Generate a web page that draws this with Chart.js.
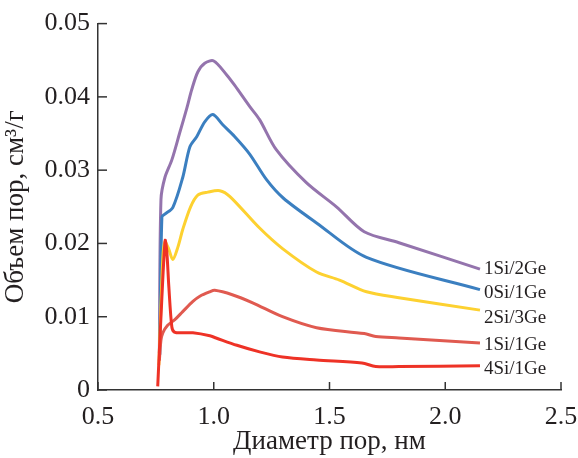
<!DOCTYPE html>
<html><head><meta charset="utf-8">
<script src="https://cdn.jsdelivr.net/npm/chart.js@4.4.1/dist/chart.umd.min.js"></script>
<style>html,body{margin:0;padding:0;background:#fff}#wrap{width:578px;height:458px}</style>
</head><body><div id="wrap"><canvas id="c" width="578" height="458"></canvas></div>
<script>
const seriesNames = ["1Si/2Ge","0Si/1Ge","2Si/3Ge","1Si/1Ge","4Si/1Ge"];
const x_1Si2Ge = [0.765,0.772,0.789,0.819,0.853,0.884,0.905,0.931,0.961,1.0,1.056,1.09,1.155,1.198,1.27,1.40,1.53,1.65,1.80,2.15];
const y_1Si2Ge = [0.005,0.026,0.029,0.0314,0.0351,0.0385,0.041,0.0434,0.0446,0.0449,0.043,0.0416,0.0387,0.0369,0.0328,0.0283,0.025,0.0216,0.0201,0.0165];
const x_0Si1Ge = [0.767,0.776,0.789,0.823,0.866,0.897,0.927,0.961,0.996,1.039,1.09,1.155,1.228,1.30,1.444,1.66,2.15];
const y_0Si1Ge = [0.0048,0.0236,0.024,0.0249,0.029,0.0332,0.0346,0.0366,0.0376,0.0362,0.0346,0.0322,0.0287,0.0262,0.0228,0.0181,0.0137];
const x_2Si3Ge = [0.763,0.78,0.789,0.805,0.823,0.845,0.866,0.90,0.931,0.974,1.026,1.07,1.198,1.297,1.444,1.543,1.66,1.80,2.15];
const y_2Si3Ge = [0.0034,0.018,0.0202,0.0193,0.0178,0.0195,0.0219,0.025,0.0266,0.027,0.0272,0.0264,0.0221,0.0193,0.0161,0.015,0.0134,0.0126,0.0109];
const x_1Si1Ge = [0.765,0.772,0.78,0.80,0.832,0.866,0.91,0.94,0.983,1.004,1.08,1.168,1.297,1.444,1.65,1.70,1.80,2.15];
const y_1Si1Ge = [0.004,0.0068,0.0078,0.0088,0.0096,0.0107,0.0121,0.0128,0.0134,0.0136,0.013,0.0119,0.010,0.0085,0.0077,0.0073,0.0071,0.0064];
const x_4Si1Ge = [0.758,0.775,0.79,0.797,0.806,0.819,0.83,0.866,0.91,0.983,1.01,1.1,1.198,1.297,1.444,1.64,1.70,1.80,2.15];
const y_4Si1Ge = [0.0005,0.012,0.0204,0.019,0.0141,0.0086,0.0079,0.0078,0.0078,0.0074,0.0071,0.0061,0.0052,0.0045,0.0041,0.0037,0.0032,0.0032,0.0033];
const xTickValues = [0.5,1.0,1.5,2.0,2.5];
const xTickLabels = ["0.5","1.0","1.5","2.0","2.5"];
const yTickValues = [0,0.01,0.02,0.03,0.04,0.05];
const yTickLabels = ["0","0.01","0.02","0.03","0.04","0.05"];
const xTitle = "Диаметр пор, нм";
const yTitle = "Объем пор, см³/г";

const colors = ["#9474ad","#3b7fc0","#fdd130","#e05a50","#ee3226"];
const xs = [x_1Si2Ge,x_0Si1Ge,x_2Si3Ge,x_1Si1Ge,x_4Si1Ge];
const ys = [y_1Si2Ge,y_0Si1Ge,y_2Si3Ge,y_1Si1Ge,y_4Si1Ge];
const labelDy = [0,3,8,2,3];
const FONT = "'Liberation Serif','Times New Roman',serif";
const TXT = "#231f20";

const datasets = seriesNames.map((n,i)=>({
  label:n,
  data: xs[i].map((x,j)=>({x:x,y:ys[i][j]})),
  borderColor:colors[i], borderWidth:3, pointRadius:0, fill:false,
  tension:0.3, capBezierPoints:true, clip:false
})).reverse();

const inwardTicks = {
  id:'inwardTicks',
  afterDraw(chart){
    const ctx=chart.ctx, xs_=chart.scales.x, ys_=chart.scales.y, ca=chart.chartArea;
    ctx.save(); ctx.strokeStyle="#333"; ctx.lineWidth=1.5;
    yTickValues.forEach(v=>{const p=ys_.getPixelForValue(v);ctx.beginPath();ctx.moveTo(ca.left,p);ctx.lineTo(ca.left+9,p);ctx.stroke();});
    xTickValues.forEach(v=>{const p=xs_.getPixelForValue(v);ctx.beginPath();ctx.moveTo(p,ca.bottom);ctx.lineTo(p,ca.bottom-8);ctx.stroke();});
    ctx.fillStyle=TXT; ctx.font="19px "+FONT; ctx.textBaseline="middle"; ctx.textAlign="left";
    seriesNames.forEach((n,i)=>{
      const xa=xs[i], ya=ys[i];
      const px=xs_.getPixelForValue(xa[xa.length-1]), py=ys_.getPixelForValue(ya[ya.length-1]);
      ctx.fillText(n,px+4,py+labelDy[i]);
    });
    ctx.restore();
  }
};

new Chart(document.getElementById('c'),{
  type:'line',
  data:{datasets},
  options:{
    responsive:false, animation:false, devicePixelRatio:1,
    layout:{padding:{top:16,right:0,left:0,bottom:0}},
    plugins:{legend:{display:false},tooltip:{enabled:false}},
    scales:{
      x:{type:'linear',min:0.5,max:2.5,
        afterBuildTicks(s){s.ticks=xTickValues.map(v=>({value:v}));},
        afterFit(s){s.height=68; s.paddingRight=17;},
        grid:{display:false,drawTicks:false},
        border:{display:true,color:"#333",width:1.5},
        ticks:{padding:12,color:TXT,font:{family:FONT,size:26},maxRotation:0,
          callback:(v)=>xTickLabels[xTickValues.indexOf(v)]},
        title:{display:true,text:xTitle,color:TXT,font:{family:FONT,size:27},padding:{top:0,bottom:0}}
      },
      y:{type:'linear',min:0,max:0.05,
        afterBuildTicks(s){s.ticks=yTickValues.map(v=>({value:v}));},
        afterFit(s){s.width=98;},
        grid:{display:false,drawTicks:false},
        border:{display:true,color:"#333",width:1.5},
        ticks:{padding:8,color:TXT,font:{family:FONT,size:26},
          callback:(v)=>yTickLabels[yTickValues.indexOf(v)]},
        title:{display:true,text:yTitle,color:TXT,font:{family:FONT,size:27},padding:{top:0,bottom:2}}
      }
    }
  },
  plugins:[inwardTicks]
});
</script></body></html>
